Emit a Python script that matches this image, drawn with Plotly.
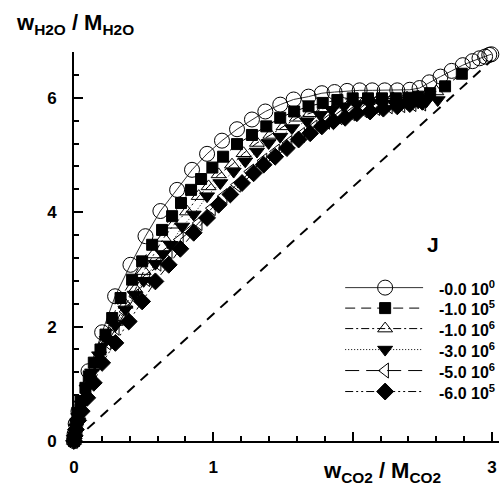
import plotly.graph_objects as go

# ---- data: water vs CO2 loading for several J values ----
labels = ["-0.0 10<sup>0</sup>", "-1.0 10<sup>5</sup>", "-1.0 10<sup>6</sup>",
          "-3.0 10<sup>6</sup>", "-5.0 10<sup>6</sup>", "-6.0 10<sup>5</sup>"]

x1 = [0, 0.004, 0.012, 0.032, 0.104, 0.202, 0.295, 0.405, 0.513, 0.62, 0.74, 0.847,
      0.955, 1.062, 1.17, 1.277, 1.373, 1.48, 1.576, 1.683, 1.779, 1.87, 1.96, 2.05,
      2.14, 2.23, 2.32, 2.41, 2.48, 2.55, 2.63, 2.71, 2.79, 2.86, 2.91, 2.95, 2.98, 2.995]
y1 = [0, 0.12, 0.3, 0.52, 1.22, 1.9, 2.53, 3.08, 3.58, 4.02, 4.39, 4.74,
      5.02, 5.25, 5.45, 5.62, 5.76, 5.88, 5.97, 6.02, 6.08, 6.1, 6.12, 6.13,
      6.13, 6.13, 6.13, 6.14, 6.17, 6.27, 6.37, 6.47, 6.57, 6.64, 6.69, 6.72, 6.75, 6.76]

x2 = [0, 0.004, 0.012, 0.025, 0.047, 0.082, 0.106, 0.142, 0.19, 0.226, 0.274, 0.334,
      0.417, 0.489, 0.561, 0.632, 0.704, 0.768, 0.84, 0.912, 0.993, 1.07, 1.17, 1.277,
      1.38, 1.48, 1.58, 1.683, 1.785, 1.89, 2.0, 2.11, 2.21, 2.31, 2.4, 2.47, 2.556,
      2.663, 2.783]
y2 = [0, 0.12, 0.3, 0.5, 0.7, 0.93, 1.13, 1.37, 1.6, 1.86, 2.15, 2.5,
      2.82, 3.14, 3.43, 3.69, 3.93, 4.16, 4.39, 4.58, 4.78, 4.97, 5.19, 5.35,
      5.5, 5.65, 5.76, 5.85, 5.91, 5.96, 5.99, 5.99, 5.99, 5.99, 6.0, 6.02, 6.08,
      6.2, 6.42]

x3 = [0, 0.005, 0.014, 0.03, 0.06, 0.11, 0.17, 0.23, 0.3, 0.37, 0.441, 0.5,
      0.572, 0.644, 0.716, 0.811, 0.895, 0.966, 1.038, 1.134, 1.217, 1.313, 1.409,
      1.504, 1.6, 1.695, 1.79, 1.89, 1.99, 2.09, 2.19, 2.29, 2.39, 2.47, 2.53, 2.6]
y3 = [0, 0.1, 0.25, 0.45, 0.72, 1.05, 1.42, 1.76, 2.08, 2.38, 2.65, 2.97,
      3.26, 3.55, 3.78, 4.01, 4.28, 4.45, 4.66, 4.83, 5.03, 5.21, 5.35,
      5.5, 5.65, 5.73, 5.81, 5.88, 5.93, 5.96, 5.98, 5.99, 6.0, 6.02, 6.06, 6.11]

x4 = [0, 0.005, 0.014, 0.03, 0.055, 0.09, 0.13, 0.18, 0.235, 0.297, 0.369, 0.435,
      0.5, 0.584, 0.64, 0.692, 0.776, 0.859, 0.955, 1.05, 1.146, 1.229, 1.313, 1.397,
      1.48, 1.564, 1.672, 1.767, 1.85, 1.94, 2.03, 2.12, 2.21, 2.3, 2.39, 2.47, 2.53, 2.61]
y4 = [0, 0.1, 0.24, 0.42, 0.64, 0.92, 1.2, 1.5, 1.77, 2.02, 2.3, 2.56,
      2.8, 3.1, 3.27, 3.43, 3.75, 3.96, 4.28, 4.51, 4.71, 4.89, 5.06, 5.21,
      5.32, 5.47, 5.59, 5.7, 5.79, 5.85, 5.88, 5.9, 5.9, 5.9, 5.91, 5.92, 5.94, 5.96]

x5 = [0, 0.005, 0.014, 0.03, 0.055, 0.09, 0.13, 0.18, 0.24, 0.3, 0.37, 0.44,
      0.52, 0.6, 0.68, 0.76, 0.83, 0.895, 0.99, 1.074, 1.17, 1.265, 1.36, 1.45,
      1.54, 1.63, 1.72, 1.81, 1.9, 1.99, 2.08, 2.17, 2.26, 2.35, 2.43, 2.5]
y5 = [0, 0.09, 0.22, 0.4, 0.6, 0.85, 1.12, 1.42, 1.72, 1.98, 2.26, 2.53,
      2.83, 3.1, 3.32, 3.52, 3.66, 3.81, 4.07, 4.28, 4.48, 4.71, 4.9, 5.06,
      5.21, 5.35, 5.48, 5.58, 5.66, 5.73, 5.78, 5.82, 5.85, 5.87, 5.89, 5.9]

x6 = [0, 0.005, 0.014, 0.03, 0.055, 0.095, 0.142, 0.202, 0.297, 0.393, 0.489, 0.584,
      0.68, 0.763, 0.859, 0.955, 1.038, 1.122, 1.206, 1.289, 1.361, 1.444, 1.528,
      1.612, 1.695, 1.779, 1.862, 1.946, 2.03, 2.125, 2.22, 2.32, 2.41, 2.5]
y6 = [0, 0.09, 0.2, 0.36, 0.52, 0.755, 1.017, 1.366, 1.715, 2.09, 2.44, 2.79,
      3.08, 3.36, 3.64, 3.9, 4.13, 4.31, 4.51, 4.68, 4.83, 4.97, 5.12,
      5.27, 5.38, 5.5, 5.59, 5.65, 5.73, 5.76, 5.81, 5.85, 5.89, 5.93]

# equilibrium reference line
ref_x = [0, 3.0]
ref_y = [0, 6.66]

x_ticks = [0, 1, 2, 3]
x_ticktext = ["0", "1", "", "3"]
y_ticks = [0, 2, 4, 6]

# ---- styles ----
FONT = "Liberation Sans"
styles = [
    dict(symbol="circle-open", size=15, dash="solid", color="#333333"),
    dict(symbol="square", size=11, dash="10px,6px", color="black"),
    dict(symbol="triangle-up-open", size=13, dash="8px,3px,2px,3px", color="black"),
    dict(symbol="triangle-down", size=13, dash="1px,2px", color="black"),
    dict(symbol="triangle-left-open", size=13, dash="14px,7px", color="black"),
    dict(symbol="diamond", size=13, dash="8px,3px,2px,3px,2px,3px", color="black"),
]
series = [(x1, y1), (x2, y2), (x3, y3), (x4, y4), (x5, y5), (x6, y6)]

fig = go.Figure()

fig.add_trace(go.Scatter(x=ref_x, y=ref_y, mode="lines",
                         line=dict(color="black", width=2, dash="10px,8px"),
                         showlegend=False, hoverinfo="skip"))

for (xs, ys), st in zip(series, styles):
    fig.add_trace(go.Scatter(
        x=xs, y=ys, mode="lines+markers", cliponaxis=False, showlegend=False,
        line=dict(color=st["color"], width=1, dash=st["dash"]),
        marker=dict(symbol=st["symbol"], size=st["size"], color="black",
                    line=dict(color="black", width=1)),
    ))

# ---- page geometry (pixels) ----
L, R, T, B = 73.5, 2.0, 52.2, 49.5
W, H = 501, 491


def paper_x(px):
    return (px - L) / (W - L - R)


def paper_y(py):
    return (H - B - py) / (H - B - T)


# ---- hand-built legend on a pixel-unit overlay axis ----
leg_x0, leg_x1, leg_xm, leg_text_x = 345, 423, 385, 437
leg_rows = [288, 308.5, 329, 350, 371, 392]

for row_y, st, lab in zip(leg_rows, styles, labels):
    fig.add_trace(go.Scatter(
        x=[leg_x0, leg_xm, leg_x1], y=[row_y, row_y, row_y], xaxis="x2", yaxis="y2",
        mode="lines", cliponaxis=False, showlegend=False, hoverinfo="skip",
        line=dict(color=st["color"], width=1, dash=st["dash"]),
    ))
    fig.add_trace(go.Scatter(
        x=[leg_xm], y=[row_y], xaxis="x2", yaxis="y2",
        mode="markers", cliponaxis=False, showlegend=False, hoverinfo="skip",
        marker=dict(symbol=st["symbol"], size=st["size"], color="black",
                    line=dict(color="black", width=1)),
    ))
    fig.add_annotation(x=paper_x(leg_text_x), y=paper_y(row_y), xref="paper", yref="paper",
                       text=lab, showarrow=False, xanchor="left", yanchor="middle",
                       font=dict(family=FONT, size=16, color="black", weight="bold"))

fig.add_annotation(x=paper_x(433), y=paper_y(245), xref="paper", yref="paper", text="J",
                   showarrow=False, xanchor="center", yanchor="middle",
                   font=dict(family=FONT, size=21, color="black", weight="bold"))

# axis titles
fig.add_annotation(x=paper_x(13), y=paper_y(24), xref="paper", yref="paper",
                   text="w<sub>H2O</sub> / M<sub>H2O</sub>", showarrow=False,
                   xanchor="left", yanchor="middle",
                   font=dict(family=FONT, size=22, color="black", weight="bold"))
fig.add_annotation(x=paper_x(321), y=paper_y(473), xref="paper", yref="paper",
                   text="w<sub>CO2</sub> / M<sub>CO2</sub>", showarrow=False,
                   xanchor="left", yanchor="middle",
                   font=dict(family=FONT, size=22, color="black", weight="bold"))

tickfont = dict(family=FONT, size=17, color="black", weight="bold")
fig.update_layout(
    width=W, height=H, margin=dict(l=L, r=R, t=T, b=B, pad=0),
    paper_bgcolor="white", plot_bgcolor="white",
    xaxis=dict(range=[0, 3.05], showgrid=False, zeroline=False,
               showline=True, linecolor="black", linewidth=2, layer="below traces",
               tickvals=x_ticks, ticktext=x_ticktext, ticks="inside", ticklen=9,
               tickwidth=2, tickcolor="black", tickfont=tickfont, ticklabelstandoff=10,
               minor=dict(dtick=0.2, ticks="inside", ticklen=5, tickwidth=1.5,
                          tickcolor="black", showgrid=False)),
    yaxis=dict(range=[0, 6.8], showgrid=False, zeroline=False,
               showline=True, linecolor="black", linewidth=2, layer="below traces",
               tickvals=y_ticks, ticks="inside", ticklen=9, tickwidth=2,
               tickcolor="black", tickfont=tickfont, ticklabelstandoff=12,
               minor=dict(dtick=0.4, ticks="inside", ticklen=5, tickwidth=1.5,
                          tickcolor="black", showgrid=False)),
    xaxis2=dict(overlaying="x", range=[L, W - R], visible=False),
    yaxis2=dict(overlaying="y", range=[H - B, T], visible=False),
)

fig.write_html("out.html")
